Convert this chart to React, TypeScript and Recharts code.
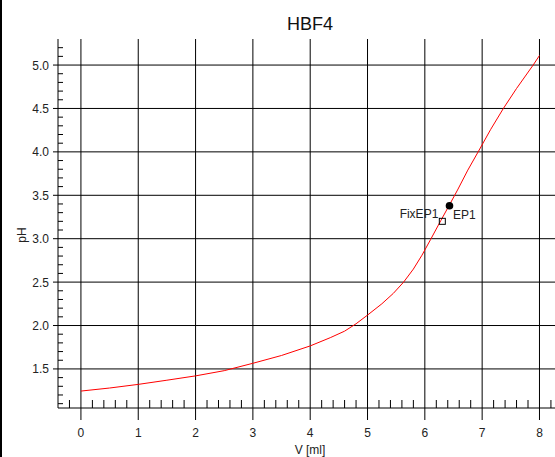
import React from "react";
import {
  ComposedChart,
  Line,
  Scatter,
  XAxis,
  YAxis,
  ReferenceLine,
} from "recharts";

// ---- data ----
const V_ML = [0, 0.5, 1, 1.5, 2, 2.5, 3, 3.5, 4, 4.35, 4.6, 4.8, 5.0, 5.25, 5.45, 5.63, 5.8, 5.95, 6.1, 6.28, 6.43, 6.57, 6.75, 6.93, 7.15, 7.37, 7.6, 7.89, 8.0];
const PH = [1.245, 1.28, 1.322, 1.37, 1.42, 1.48, 1.565, 1.655, 1.765, 1.86, 1.935, 2.02, 2.12, 2.25, 2.37, 2.5, 2.65, 2.81, 2.99, 3.21, 3.39, 3.56, 3.79, 4.0, 4.26, 4.5, 4.73, 5.0, 5.11];

const EP_V = [6.43];
const EP_PH = [3.38];
const EP_LABEL = ["EP1"];
const FIX_V = [6.305];
const FIX_PH = [3.2];
const FIX_LABEL = ["FixEP1"];

const X_GRID = [0, 1, 2, 3, 4, 5, 6, 7, 8];
const Y_GRID = [1.5, 2.0, 2.5, 3.0, 3.5, 4.0, 4.5, 5.0];
const X_TICKS = [-0.2, 0, 0.2, 0.4, 0.6, 0.8, 1, 1.2, 1.4, 1.6, 1.8, 2, 2.2, 2.4, 2.6, 2.8, 3, 3.2, 3.4, 3.6, 3.8, 4, 4.2, 4.4, 4.6, 4.8, 5, 5.2, 5.4, 5.6, 5.8, 6, 6.2, 6.4, 6.6, 6.8, 7, 7.2, 7.4, 7.6, 7.8, 8, 8.2];
const Y_TICKS = [1.1, 1.2, 1.3, 1.4, 1.5, 1.6, 1.7, 1.8, 1.9, 2.0, 2.1, 2.2, 2.3, 2.4, 2.5, 2.6, 2.7, 2.8, 2.9, 3.0, 3.1, 3.2, 3.3, 3.4, 3.5, 3.6, 3.7, 3.8, 3.9, 4.0, 4.1, 4.2, 4.3, 4.4, 4.5, 4.6, 4.7, 4.8, 4.9, 5.0, 5.1, 5.2];

const TITLE = "HBF4";
const X_LABEL = "V [ml]";
const Y_LABEL = "pH";

const curve = V_ML.map((v, i) => ({ v, ph: PH[i] }));
const epData = EP_V.map((v, i) => ({ v, ph: EP_PH[i], label: EP_LABEL[i] }));
const fixData = FIX_V.map((v, i) => ({ v, ph: FIX_PH[i], label: FIX_LABEL[i] }));

// ---- layout ----
const FONT = "'Liberation Sans', Arial, sans-serif";
const PLOT_LEFT = 58;
const PLOT_TOP = 39;
const AXIS_H = 49;
const CH_W = 570;
const CH_H = 457;
const PLOT_BOTTOM = CH_H - AXIS_H;

const isMult = (v: number, step: number) => Math.abs(v / step - Math.round(v / step)) < 1e-6;

const XTick = (props: any) => {
  const { x, payload } = props;
  const val = payload.value as number;
  if (isMult(val, 1)) {
    return (
      <g>
        <line x1={x} x2={x} y1={PLOT_BOTTOM} y2={PLOT_BOTTOM + 12} stroke="#000" strokeWidth={1} />
        <text x={x} y={PLOT_BOTTOM + 29} textAnchor="middle" fontSize={12} fontFamily={FONT} fill="#222">
          {String(Math.round(val))}
        </text>
      </g>
    );
  }
  return <line x1={x} x2={x} y1={PLOT_BOTTOM - 8} y2={PLOT_BOTTOM} stroke="#000" strokeWidth={1} />;
};

const YTick = (props: any) => {
  const { y, payload } = props;
  const val = payload.value as number;
  if (isMult(val, 0.5)) {
    return (
      <g>
        <line x1={PLOT_LEFT - 5} x2={PLOT_LEFT} y1={y} y2={y} stroke="#000" strokeWidth={1} />
        <text x={49} y={y + 4.5} textAnchor="end" fontSize={12} fontFamily={FONT} fill="#222">
          {val.toFixed(1)}
        </text>
      </g>
    );
  }
  return <line x1={PLOT_LEFT} x2={PLOT_LEFT + 5} y1={y} y2={y} stroke="#000" strokeWidth={1} />;
};

const EpShape = (props: any) => {
  const { cx, cy, payload } = props;
  return (
    <g>
      <circle cx={cx} cy={cy} r={3.8} fill="#000" />
      <text x={cx + 3.5} y={cy + 13} fontSize={12} fontFamily={FONT} fill="#222">
        {payload.label}
      </text>
    </g>
  );
};

const FixShape = (props: any) => {
  const { cx, cy, payload } = props;
  return (
    <g>
      <rect x={cx - 3} y={cy - 3} width={6} height={6} fill="none" stroke="#000" strokeWidth={1} />
      <text x={cx - 4} y={cy - 3.5} textAnchor="end" fontSize={12} fontFamily={FONT} fill="#222">
        {payload.label}
      </text>
    </g>
  );
};

export default function App() {
  return (
    <div
      style={{
        position: "absolute",
        left: 0,
        top: 0,
        width: 555,
        height: 457,
        overflow: "hidden",
        background: "#fff",
      }}
    >
      <div style={{ position: "absolute", left: 0, top: 0 }}>
        <ComposedChart
          width={CH_W}
          height={CH_H}
          margin={{ top: PLOT_TOP, right: CH_W - 562.4, left: 0, bottom: 0 }}
        >
          <XAxis
            xAxisId="b"
            type="number"
            dataKey="v"
            domain={[-0.4, 8.4]}
            ticks={X_TICKS}
            interval={0}
            height={AXIS_H}
            tick={XTick}
            tickLine={false}
            axisLine={{ stroke: "#000" }}
            allowDataOverflow
          />
          <XAxis
            xAxisId="t"
            orientation="top"
            type="number"
            domain={[-0.4, 8.4]}
            height={0}
            tick={false}
            tickLine={false}
            axisLine={{ stroke: "#000" }}
            allowDataOverflow
          />
          <YAxis
            yAxisId="l"
            type="number"
            dataKey="ph"
            domain={[1.05, 5.3]}
            ticks={Y_TICKS}
            interval={0}
            width={PLOT_LEFT}
            tick={YTick}
            tickLine={false}
            axisLine={{ stroke: "#000" }}
            allowDataOverflow
          />
          {X_GRID.map((gx) => (
            <ReferenceLine key={"gx" + gx} xAxisId="b" yAxisId="l" x={gx} stroke="#000" strokeWidth={1} />
          ))}
          {Y_GRID.map((gy) => (
            <ReferenceLine key={"gy" + gy} xAxisId="b" yAxisId="l" y={gy} stroke="#000" strokeWidth={1} />
          ))}
          <Line
            xAxisId="b"
            yAxisId="l"
            data={curve}
            dataKey="ph"
            type="linear"
            stroke="#ff0000"
            strokeWidth={1}
            dot={false}
            isAnimationActive={false}
          />
          <Scatter xAxisId="b" yAxisId="l" data={fixData} dataKey="ph" shape={FixShape} isAnimationActive={false} />
          <Scatter xAxisId="b" yAxisId="l" data={epData} dataKey="ph" shape={EpShape} isAnimationActive={false} />
        </ComposedChart>
      </div>
      <svg
        width={555}
        height={457}
        style={{ position: "absolute", left: 0, top: 0, pointerEvents: "none" }}
      >
        <text x={310} y={30} textAnchor="middle" fontSize={18} fontFamily={FONT} fill="#111">
          {TITLE}
        </text>
        <text x={310} y={454} textAnchor="middle" fontSize={12} fontFamily={FONT} fill="#222">
          {X_LABEL}
        </text>
        <text
          x={26}
          y={235}
          textAnchor="middle"
          fontSize={12}
          fontFamily={FONT}
          fill="#222"
          transform="rotate(-90 26 235)"
        >
          {Y_LABEL}
        </text>
      </svg>
      <div style={{ position: "absolute", left: 0, top: 0, width: 2, height: 457, background: "#000" }} />
    </div>
  );
}
